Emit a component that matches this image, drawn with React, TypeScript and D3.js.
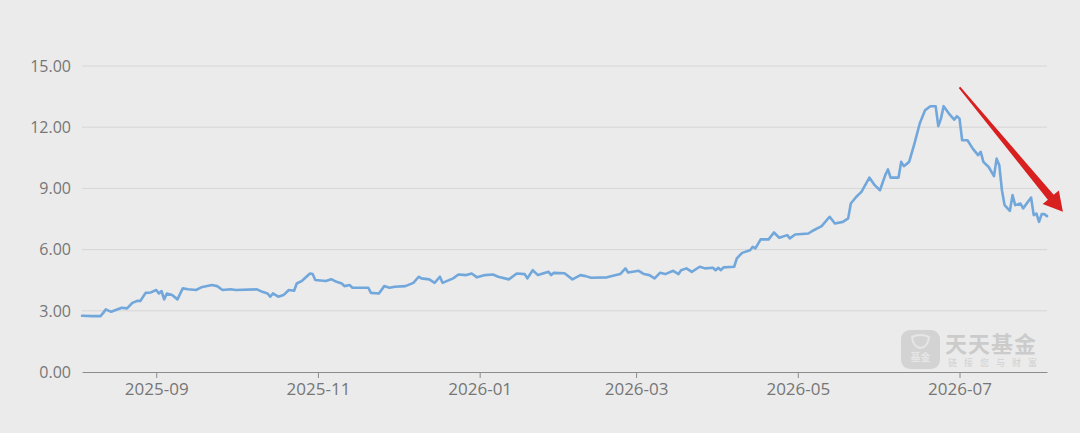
import React, { useEffect, useRef } from "react";
import * as d3 from "d3";

// ── Data ──────────────────────────────────────────────────────────────────────

const DATES = [
  "2025-08-04", "2025-08-08", "2025-08-11", "2025-08-12", "2025-08-13", "2025-08-15",
  "2025-08-19", "2025-08-21", "2025-08-23", "2025-08-25", "2025-08-26", "2025-08-28",
  "2025-08-30", "2025-09-01", "2025-09-02", "2025-09-03", "2025-09-04", "2025-09-05",
  "2025-09-07", "2025-09-09", "2025-09-11", "2025-09-13", "2025-09-16", "2025-09-18",
  "2025-09-22", "2025-09-24", "2025-09-26", "2025-09-29", "2025-10-01", "2025-10-09",
  "2025-10-11", "2025-10-13", "2025-10-14", "2025-10-15", "2025-10-17", "2025-10-19",
  "2025-10-21", "2025-10-23", "2025-10-24", "2025-10-26", "2025-10-29", "2025-10-30",
  "2025-10-31", "2025-11-04", "2025-11-06", "2025-11-08", "2025-11-10", "2025-11-11",
  "2025-11-13", "2025-11-14", "2025-11-20", "2025-11-21", "2025-11-24", "2025-11-26",
  "2025-11-28", "2025-11-30", "2025-12-04", "2025-12-07", "2025-12-09", "2025-12-10",
  "2025-12-13", "2025-12-15", "2025-12-17", "2025-12-18", "2025-12-22", "2025-12-24",
  "2025-12-27", "2025-12-29", "2025-12-31", "2026-01-03", "2026-01-06", "2026-01-08",
  "2026-01-12", "2026-01-15", "2026-01-18", "2026-01-19", "2026-01-21", "2026-01-23",
  "2026-01-27", "2026-01-28", "2026-01-29", "2026-02-02", "2026-02-05", "2026-02-08",
  "2026-02-10", "2026-02-12", "2026-02-18", "2026-02-23", "2026-02-25", "2026-02-26",
  "2026-03-02", "2026-03-04", "2026-03-06", "2026-03-08", "2026-03-10", "2026-03-12",
  "2026-03-15", "2026-03-17", "2026-03-18", "2026-03-20", "2026-03-22", "2026-03-25",
  "2026-03-27", "2026-03-30", "2026-03-31", "2026-04-01", "2026-04-02", "2026-04-03",
  "2026-04-07", "2026-04-08", "2026-04-10", "2026-04-13", "2026-04-14", "2026-04-15",
  "2026-04-17", "2026-04-20", "2026-04-22", "2026-04-24", "2026-04-27", "2026-04-28",
  "2026-04-30", "2026-05-05", "2026-05-07", "2026-05-10", "2026-05-13", "2026-05-15",
  "2026-05-18", "2026-05-20", "2026-05-21", "2026-05-23", "2026-05-25", "2026-05-28",
  "2026-05-30", "2026-06-01", "2026-06-03", "2026-06-04", "2026-06-05", "2026-06-08",
  "2026-06-09", "2026-06-10", "2026-06-12", "2026-06-14", "2026-06-16", "2026-06-18",
  "2026-06-20", "2026-06-22", "2026-06-23", "2026-06-24", "2026-06-25", "2026-06-27",
  "2026-06-29", "2026-06-30", "2026-07-01", "2026-07-02", "2026-07-04", "2026-07-06",
  "2026-07-08", "2026-07-09", "2026-07-10", "2026-07-12", "2026-07-14", "2026-07-15",
  "2026-07-16", "2026-07-17", "2026-07-18", "2026-07-20", "2026-07-21", "2026-07-22",
  "2026-07-24", "2026-07-25", "2026-07-28", "2026-07-29", "2026-07-30", "2026-07-31",
  "2026-08-01", "2026-08-02", "2026-08-03",
];

const NAV = [
  2.76, 2.74, 2.74, 2.9, 3.07, 2.95,
  3.15, 3.12, 3.39, 3.49, 3.48, 3.88,
  3.9, 4.02, 3.85, 3.97, 3.56, 3.85,
  3.77, 3.56, 4.1, 4.06, 4.02, 4.15,
  4.26, 4.21, 4.02, 4.06, 4.02, 4.05,
  3.93, 3.85, 3.69, 3.85, 3.69, 3.77,
  4.02, 3.98, 4.34, 4.47, 4.83, 4.8,
  4.51, 4.46, 4.55, 4.42, 4.34, 4.21,
  4.26, 4.13, 4.13, 3.88, 3.85, 4.21,
  4.13, 4.18, 4.21, 4.37, 4.67, 4.59,
  4.54, 4.37, 4.67, 4.37, 4.59, 4.78,
  4.75, 4.83, 4.64, 4.75, 4.78, 4.67,
  4.54, 4.83, 4.8, 4.59, 4.99, 4.75,
  4.91, 4.75, 4.86, 4.84, 4.54, 4.75,
  4.7, 4.62, 4.64, 4.8, 5.08, 4.88,
  4.96, 4.8, 4.75, 4.59, 4.86, 4.8,
  4.96, 4.8, 4.99, 5.08, 4.91, 5.16,
  5.08, 5.11, 4.99, 5.11, 4.99, 5.13,
  5.16, 5.57, 5.84, 5.97, 6.14, 6.06,
  6.5, 6.5, 6.84, 6.58, 6.71, 6.55,
  6.74, 6.79, 6.95, 7.15, 7.61, 7.28,
  7.36, 7.53, 8.26, 8.58, 8.83, 9.53,
  9.16, 8.91, 9.65, 9.93, 9.53, 9.53,
  10.3, 10.09, 10.3, 11.2, 12.18, 12.83,
  13.03, 13.03, 12.05, 12.42, 13.03, 12.67,
  12.37, 12.54, 12.42, 11.36, 11.36, 10.95,
  10.63, 10.79, 10.3, 10.05, 9.6, 10.46,
  10.14, 8.91, 8.18, 7.9, 8.67, 8.18,
  8.26, 8.02, 8.55, 7.69, 7.77, 7.36,
  7.74, 7.74, 7.64,
];

const Y_TICKS = [0, 3, 6, 9, 12, 15];
const X_TICKS = ["2025-09-01", "2025-11-01", "2026-01-01", "2026-03-01", "2026-05-01", "2026-07-01"];

// annotation arrow, in data coordinates
const ARROW_FROM: [string, number] = ["2026-07-01", 13.95];
const ARROW_TO: [string, number] = ["2026-08-09", 7.85];

// ── Constants ─────────────────────────────────────────────────────────────────

const WIDTH = 1080;
const HEIGHT = 433;
const PLOT = { left: 82, right: 1047, top: 66, bottom: 372 };
const FONT = "'Open Sans', 'Noto Sans', sans-serif";
const LINE_COLOR = "#72a7dc";
const LABEL_COLOR = "#767676";

const parse = d3.timeParse("%Y-%m-%d");

function renderChart(svgEl: SVGSVGElement) {
  const svg = d3.select(svgEl);
  svg.selectAll("*").remove();

  const data = DATES.map((d, i) => ({ date: parse(d) as Date, value: NAV[i] }));

  const x = d3
    .scaleTime()
    .domain([parse(DATES[0]) as Date, parse(DATES[DATES.length - 1]) as Date])
    .range([PLOT.left, PLOT.right]);
  const y = d3.scaleLinear().domain([0, 15]).range([PLOT.bottom, PLOT.top]);

  svg.append("rect").attr("width", WIDTH).attr("height", HEIGHT).attr("fill", "#ebebeb");

  // grid lines + y labels
  const yAxis = svg.append("g");
  Y_TICKS.forEach((t) => {
    if (t !== 0) {
      yAxis
        .append("line")
        .attr("x1", PLOT.left)
        .attr("x2", PLOT.right)
        .attr("y1", y(t))
        .attr("y2", y(t))
        .attr("stroke", "#d6d6d6")
        .attr("stroke-width", 1);
    }
    yAxis
      .append("text")
      .attr("x", 71)
      .attr("y", y(t))
      .attr("dy", "0.36em")
      .attr("text-anchor", "end")
      .attr("font-family", FONT)
      .attr("font-size", 16)
      .attr("fill", LABEL_COLOR)
      .text(t.toFixed(2));
  });

  // bottom axis
  const xAxis = d3
    .axisBottom(x)
    .tickValues(X_TICKS.map((d) => parse(d) as Date))
    .tickFormat((d) => d3.timeFormat("%Y-%m")(d as Date))
    .tickSizeInner(6)
    .tickSizeOuter(0)
    .tickPadding(5);

  svg
    .append("g")
    .attr("transform", `translate(0,${PLOT.bottom})`)
    .call(xAxis)
    .call((ax) => ax.select(".domain").attr("stroke", "#8c8c8c"))
    .call((ax) => ax.selectAll(".tick line").attr("stroke", "#8c8c8c"))
    .call((ax) =>
      ax
        .selectAll(".tick text")
        .attr("font-family", FONT)
        .attr("font-size", 17)
        .attr("fill", LABEL_COLOR)
    );

  // watermark
  const wm = svg.append("g").attr("transform", "translate(901,330)");
  wm.append("rect").attr("width", 39).attr("height", 39).attr("rx", 9).attr("fill", "#d3d3d3");
  wm.append("path")
    .attr("d", "M11,7 Q19.5,3 28,7 Q27,17 19.5,18 Q12,17 11,7 Z")
    .attr("fill", "none")
    .attr("stroke", "#e6e6e6")
    .attr("stroke-width", 2);
  wm.append("text")
    .attr("x", 19.5)
    .attr("y", 31)
    .attr("text-anchor", "middle")
    .attr("font-family", "'Noto Sans CJK SC', sans-serif")
    .attr("font-weight", 700)
    .attr("font-size", 10)
    .attr("fill", "#e6e6e6")
    .text("基金");
  wm.append("text")
    .attr("x", 44)
    .attr("y", 22)
    .attr("font-family", "'Noto Sans CJK SC', sans-serif")
    .attr("font-weight", 700)
    .attr("font-size", 22)
    .attr("letter-spacing", 1)
    .attr("fill", "#cbcbcb")
    .text("天天基金");
  wm.append("text")
    .attr("x", 47)
    .attr("y", 36)
    .attr("font-family", "'Noto Sans CJK SC', sans-serif")
    .attr("font-size", 9)
    .attr("letter-spacing", 7)
    .attr("fill", "#d0d0d0")
    .text("链接您与财富");

  // NAV line
  const line = d3
    .line<{ date: Date; value: number }>()
    .x((d) => x(d.date))
    .y((d) => y(d.value));

  svg
    .append("path")
    .datum(data)
    .attr("d", line)
    .attr("fill", "none")
    .attr("stroke", LINE_COLOR)
    .attr("stroke-width", 2.6)
    .attr("stroke-linejoin", "round")
    .attr("stroke-linecap", "round");

  // red arrow annotation: tapered shaft + head
  const x0 = x(parse(ARROW_FROM[0]) as Date);
  const y0 = y(ARROW_FROM[1]);
  const x1 = x(parse(ARROW_TO[0]) as Date);
  const y1 = y(ARROW_TO[1]);
  const len = Math.hypot(x1 - x0, y1 - y0);
  const ux = (x1 - x0) / len;
  const uy = (y1 - y0) / len;
  const nx = -uy;
  const ny = ux;
  const headLen = 19;
  const headHalf = 10.5;
  const shaftHalf = 3.8;
  const bx = x1 - ux * headLen;
  const by = y1 - uy * headLen;
  const pts: [number, number][] = [
    [x0 + nx * 1, y0 + ny * 1],
    [bx + nx * shaftHalf, by + ny * shaftHalf],
    [bx + nx * headHalf, by + ny * headHalf],
    [x1, y1],
    [bx - nx * headHalf, by - ny * headHalf],
    [bx - nx * shaftHalf, by - ny * shaftHalf],
    [x0 - nx * 1, y0 - ny * 1],
  ];
  svg
    .append("path")
    .attr("d", "M" + pts.map((p) => p.join(",")).join("L") + "Z")
    .attr("fill", "#d92020");
}

export default function App() {
  const svgRef = useRef<SVGSVGElement>(null);

  useEffect(() => {
    if (svgRef.current) renderChart(svgRef.current);
  }, []);

  return (
    <svg
      ref={svgRef}
      width={WIDTH}
      height={HEIGHT}
      style={{ position: "absolute", left: 0, top: 0, display: "block" }}
    />
  );
}
